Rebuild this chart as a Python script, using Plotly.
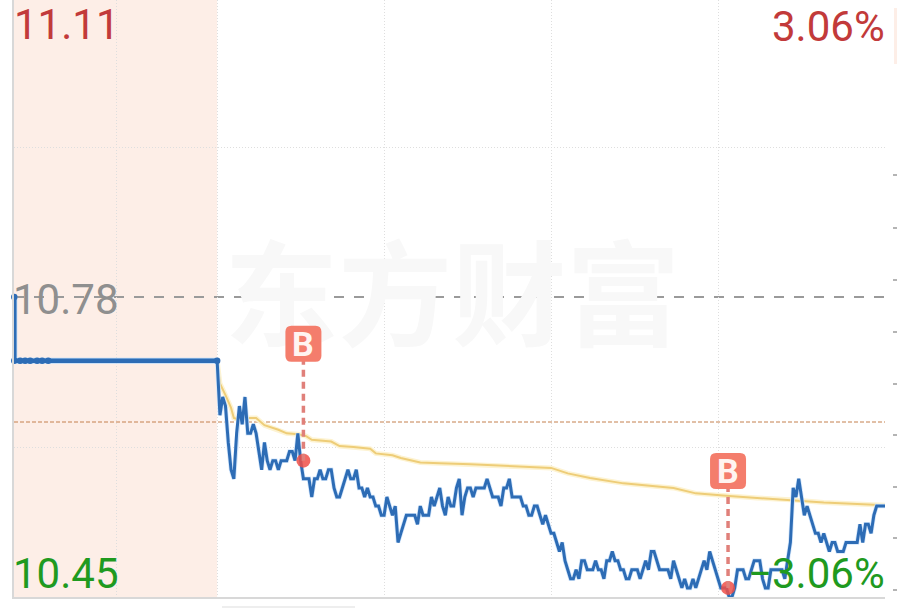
import plotly.graph_objects as go

# ---- values ----
PRE_CLOSE = 10.78
HIGH, LOW = 11.11, 10.45
AUCTION_START = -73
AUCTION_MIN = [-72.9, -72.9, -70.8, -69.0, -67.2, -64.7, -62.9, -60.7, 0]
AUCTION_PRICE = [10.78, 10.71, 10.71, 10.71, 10.71, 10.71, 10.71, 10.71, 10.71]

PRICE = [
 10.71,10.65,10.67,10.66,10.62,10.59,10.58,10.63,10.66,10.64,
 10.67,10.63,10.63,10.64,10.63,10.61,10.59,10.62,10.60,10.59,
 10.60,10.60,10.59,10.60,10.60,10.60,10.61,10.61,10.60,10.63,
 10.60,10.58,10.58,10.58,10.56,10.58,10.58,10.59,10.58,10.58,
 10.59,10.59,10.57,10.56,10.56,10.57,10.58,10.59,10.58,10.58,
 10.59,10.57,10.57,10.56,10.57,10.56,10.56,10.55,10.55,10.54,
 10.54,10.56,10.55,10.54,10.55,10.51,10.52,10.53,10.54,10.54,
 10.54,10.54,10.53,10.55,10.54,10.54,10.54,10.56,10.55,10.56,
 10.57,10.55,10.54,10.56,10.55,10.55,10.57,10.58,10.54,10.56,
 10.57,10.57,10.56,10.57,10.57,10.57,10.57,10.58,10.57,10.56,
 10.56,10.56,10.55,10.57,10.57,10.58,10.56,10.56,10.56,10.56,
 10.55,10.55,10.54,10.54,10.55,10.55,10.54,10.53,10.54,10.53,
 10.52,10.52,10.51,10.50,10.51,10.49,10.48,10.47,10.47,10.48,
 10.47,10.49,10.49,10.48,10.48,10.48,10.49,10.48,10.48,10.47,
 10.49,10.49,10.50,10.49,10.49,10.48,10.48,10.47,10.47,10.48,
 10.48,10.48,10.47,10.48,10.49,10.48,10.50,10.50,10.49,10.48,
 10.48,10.48,10.48,10.47,10.49,10.48,10.47,10.46,10.47,10.46,
 10.46,10.47,10.46,10.47,10.48,10.49,10.48,10.50,10.49,10.48,
 10.47,10.46,10.46,10.46,10.45,10.45,10.46,10.48,10.48,10.48,
 10.47,10.47,10.48,10.49,10.49,10.49,10.47,10.46,10.46,10.48,
 10.48,10.48,10.48,10.48,10.47,10.49,10.51,10.57,10.56,10.58,
 10.56,10.54,10.55,10.54,10.53,10.52,10.52,10.51,10.52,10.51,
 10.50,10.51,10.51,10.50,10.50,10.50,10.51,10.51,10.51,10.51,
 10.51,10.53,10.51,10.53,10.53,10.52,10.54,10.55,10.55,10.55,
 10.55,
]
MINUTES = list(range(len(PRICE)))

AVG_MIN = [0,1,3,5,6,8,11,14,17,22,25,29,32,34,41,44,49,55,57,63,66,73,80,91,120,126,134,146,164,172,184,194,206,218,240]
AVG_PRICE = [10.71,10.685,10.672,10.658,10.647,10.645,10.647,10.647,10.639,10.634,10.630,10.629,10.627,10.623,
             10.621,10.616,10.615,10.613,10.608,10.606,10.603,10.598,10.597,10.596,10.592,10.586,10.581,10.575,
             10.570,10.564,10.561,10.559,10.557,10.554,10.551]

BUY_MIN = [31, 183.6]
BUY_PRICE = [10.60, 10.46]
AVG_REF = 10.6425
GRID_X = [-36, 0, 60, 120, 180]
GRID_Y = [10.945, 10.615]
EDGE_MARKS = [175, 228, 280, 332, 384, 435, 487, 538, 590]

W, H = 897, 608
L, R, T, B = 14, 12, 0, 11
TOP = PRE_CLOSE + 297 / 909
TXT = "Roboto"

fig = go.Figure()
fig.add_trace(go.Scatter(x=[84.5], y=[10.767], mode="text", text=["东方财富"], hoverinfo="skip",
    textfont=dict(family="Noto Sans CJK SC", size=114, color="#f8f8f8", weight="bold")))
fig.add_trace(go.Scatter(x=AVG_MIN, y=AVG_PRICE, mode="lines", line=dict(color="#fdf3d2", width=5), cliponaxis=False))
fig.add_trace(go.Scatter(x=AVG_MIN, y=AVG_PRICE, mode="lines", line=dict(color="#eecd78", width=2), cliponaxis=False))
fig.add_trace(go.Scatter(x=MINUTES, y=PRICE, mode="lines", line=dict(color="#d3e6fb", width=4.5), cliponaxis=False))
fig.add_trace(go.Scatter(x=AUCTION_MIN, y=AUCTION_PRICE, mode="lines", line=dict(color="#bcdcfb", width=6), cliponaxis=False))
fig.add_trace(go.Scatter(x=AUCTION_MIN, y=AUCTION_PRICE, mode="lines+markers",
    line=dict(color="#2d6cb5", width=4.5), marker=dict(color="#2d6cb5", size=6.5), cliponaxis=False))
fig.add_trace(go.Scatter(x=MINUTES, y=PRICE, mode="lines", line=dict(color="#2d6cb5", width=3), cliponaxis=False))
fig.add_trace(go.Scatter(x=BUY_MIN, y=BUY_PRICE, mode="markers",
    marker=dict(color="rgba(240,80,72,0.85)", size=14), cliponaxis=False))

shapes = [
    dict(type="rect", xref="x", yref="paper", x0=AUCTION_START, x1=0, y0=0, y1=1,
         fillcolor="#fdeee7", line_width=0, layer="below"),
    dict(type="line", xref="paper", x0=0, x1=1, yref="y", y0=PRE_CLOSE, y1=PRE_CLOSE,
         line=dict(color="#9a9a9a", width=2, dash="10px,10px"), layer="between"),
    dict(type="line", xref="paper", x0=0, x1=1, yref="y", y0=AVG_REF, y1=AVG_REF,
         line=dict(color="#c4804f", width=1, dash="4px,2px"), layer="between"),
]
annos = []
for m, p in zip(BUY_MIN, BUY_PRICE):
    shapes.append(dict(type="line", xsizemode="pixel", ysizemode="pixel", xref="x", yref="y",
        xanchor=m, yanchor=p, x0=0, x1=0, y0=0, y1=100,
        line=dict(color="#e0807a", width=3.5, dash="7px,5px"), layer="above"))
    shapes.append(dict(type="path", xsizemode="pixel", ysizemode="pixel", xref="x", yref="y",
        xanchor=m, yanchor=p, fillcolor="#f47d6c", line_width=0, layer="above",
        path="M -12 99 L 12 99 Q 18 99 18 105 L 18 129 Q 18 135 12 135 L -12 135 Q -18 135 -18 129 "
             "L -18 105 Q -18 99 -12 99 Z"))
    annos.append(dict(x=m, y=p, xref="x", yref="y", text="<b>B</b>", showarrow=False,
        yshift=117, font=dict(family=TXT, size=34, color="#fff4f0")))

def label(text, px, py, anchor, color):
    annos.append(dict(text=text, xref="paper", yref="paper", showarrow=False,
        x=(px - L) / (W - L - R), y=1 - (py - T) / (H - T - B), xanchor=anchor, yanchor="middle",
        font=dict(family=TXT, size=42, color=color), borderpad=0))

label(f"{HIGH:.2f}", 13, 25, "left", "#c23a3a")
label(f"{PRE_CLOSE:.2f}", 12, 299, "left", "#8f8f8f")
label(f"{LOW:.2f}", 12, 573, "left", "#1f9a1f")
label("3.06%", 886, 26, "right", "#c23a3a")
label("\u22123.06%", 886, 573, "right", "#1f9a1f")

for y in EDGE_MARKS:
    shapes.append(dict(type="rect", xref="paper", yref="paper",
        x0=(893 - L) / (W - L - R), x1=(897 - L) / (W - L - R),
        y0=1 - (y + 1) / (H - B), y1=1 - (y - 1) / (H - B), fillcolor="#b4b4b4", line_width=0))
shapes.append(dict(type="rect", xref="paper", yref="paper",
    x0=(894 - L) / (W - L - R), x1=(898 - L) / (W - L - R),
    y0=1 - 64 / (H - B), y1=1 - 8 / (H - B), fillcolor="#fdeee7", line_width=0))
shapes.append(dict(type="rect", xref="paper", yref="paper",
    x0=(222 - L) / (W - L - R), x1=(355 - L) / (W - L - R),
    y0=1 - 608 / (H - B), y1=1 - 606 / (H - B), fillcolor="#eeeeee", line_width=0))

fig.update_layout(
    width=W, height=H, margin=dict(l=L, r=R, t=T, b=B), showlegend=False,
    paper_bgcolor="white", plot_bgcolor="white", shapes=shapes, annotations=annos,
    hovermode=False,
    xaxis=dict(range=[AUCTION_START, 240], tickvals=GRID_X, showticklabels=False, ticks="",
        showgrid=True, gridcolor="#dedede", griddash="1px,2px", gridwidth=1, zeroline=False,
        showline=True, linecolor="#d8d8d8", linewidth=2),
    yaxis=dict(range=[LOW, TOP], tickvals=GRID_Y, showticklabels=False, ticks="",
        showgrid=True, gridcolor="#dedede", griddash="1px,2px", gridwidth=1, zeroline=False,
        showline=True, linecolor="#d8d8d8", linewidth=2),
)
fig.write_html("out.html", config=dict(displayModeBar=False),
               post_script="document.body.style.margin='0';document.documentElement.style.overflow='hidden';")
